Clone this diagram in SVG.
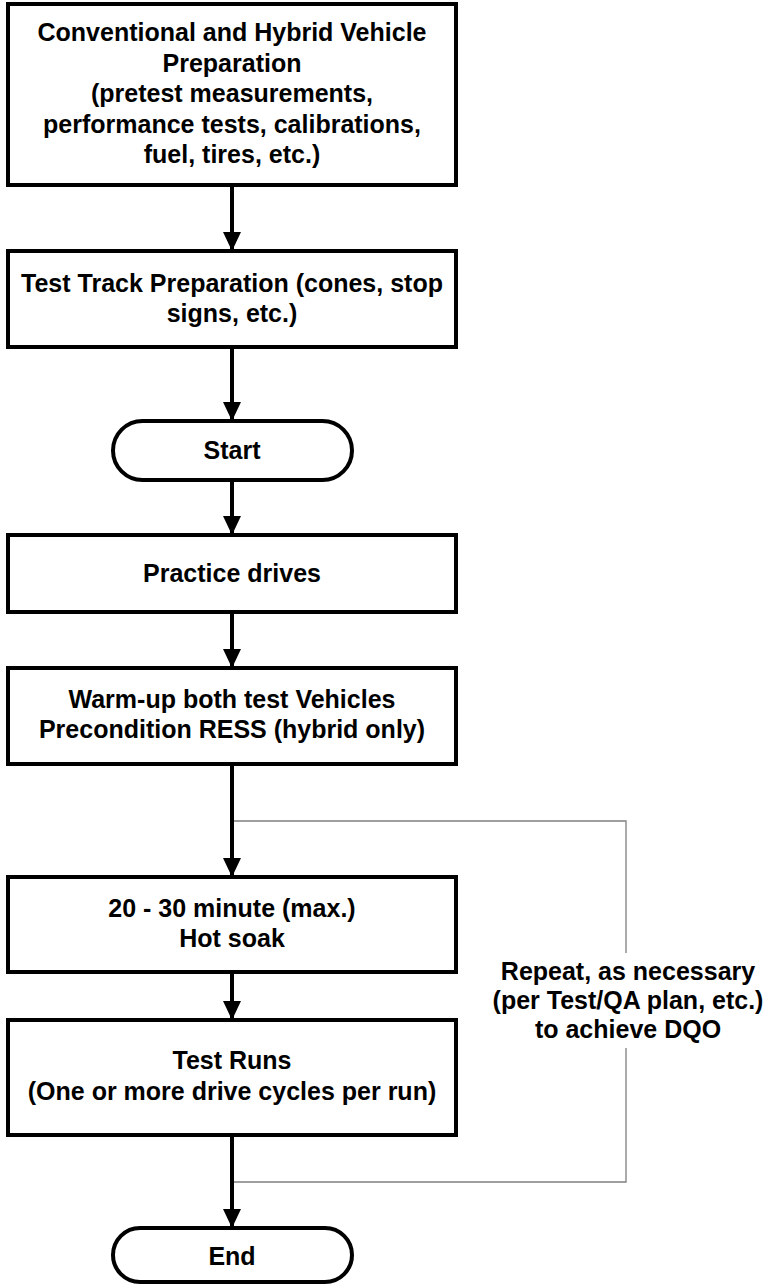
<svg xmlns="http://www.w3.org/2000/svg" width="766" height="1284" viewBox="0 0 766 1284">
<style>
.box{fill:#fff;stroke:#000;stroke-width:4}
.t{font-family:"Liberation Sans",Arial,sans-serif;font-weight:bold;font-size:25px;fill:#000;text-anchor:middle}
.c{stroke:#000;stroke-width:4;fill:none}
.loop{stroke:#7f7f7f;stroke-width:1.3;fill:none}
</style>
<defs>
<marker id="ah" markerUnits="userSpaceOnUse" markerWidth="20" markerHeight="18" refX="19" refY="9" orient="auto">
<path d="M0,0 L19,9 L0,18 Z" fill="#000"/>
</marker>
</defs>
<rect width="766" height="1284" fill="#fff"/>
<g id="connectors">
<path class="loop" d="M232,821 H626 V953 M626,1048 V1182 H232"/>
<line class="c" x1="232" y1="185" x2="232" y2="251" marker-end="url(#ah)"/>
<line class="c" x1="232" y1="347" x2="232" y2="421" marker-end="url(#ah)"/>
<line class="c" x1="232" y1="480" x2="232" y2="535" marker-end="url(#ah)"/>
<line class="c" x1="232" y1="612" x2="232" y2="668" marker-end="url(#ah)"/>
<line class="c" x1="232" y1="764" x2="232" y2="877" marker-end="url(#ah)"/>
<line class="c" x1="232" y1="972" x2="232" y2="1020" marker-end="url(#ah)"/>
<line class="c" x1="232" y1="1135" x2="232" y2="1228" marker-end="url(#ah)"/>
<g id="loop-label">
<text class="t" x="628" y="980">Repeat, as necessary</text>
<text class="t" x="628" y="1009">(per Test/QA plan, etc.)</text>
<text class="t" x="628" y="1038">to achieve DQO</text>
</g>
</g>
<g id="n1">
<rect class="box" x="8" y="4" width="448" height="181"/>
<text class="t" x="232" y="41">Conventional and Hybrid Vehicle</text>
<text class="t" x="232" y="72">Preparation</text>
<text class="t" x="232" y="102">(pretest measurements,</text>
<text class="t" x="232" y="133">performance tests, calibrations,</text>
<text class="t" x="232" y="163">fuel, tires, etc.)</text>
</g>
<g id="n2">
<rect class="box" x="8" y="251" width="448" height="96"/>
<text class="t" x="232" y="292">Test Track Preparation (cones, stop</text>
<text class="t" x="232" y="322">signs, etc.)</text>
</g>
<g id="start">
<rect class="box" x="113" y="421" width="239" height="59" rx="29.5"/>
<text class="t" x="232" y="459">Start</text>
</g>
<g id="n3">
<rect class="box" x="8" y="535" width="448" height="77"/>
<text class="t" x="232" y="582">Practice drives</text>
</g>
<g id="n4">
<rect class="box" x="8" y="668" width="448" height="96"/>
<text class="t" x="232" y="708">Warm-up both test Vehicles</text>
<text class="t" x="232" y="738">Precondition RESS (hybrid only)</text>
</g>
<g id="n5">
<rect class="box" x="8" y="877" width="448" height="95"/>
<text class="t" x="232" y="917">20 - 30 minute (max.)</text>
<text class="t" x="232" y="947">Hot soak</text>
</g>
<g id="n6">
<rect class="box" x="8" y="1020" width="448" height="115"/>
<text class="t" x="232" y="1069">Test Runs</text>
<text class="t" x="232" y="1100">(One or more drive cycles per run)</text>
</g>
<g id="end">
<rect class="box" x="113" y="1228" width="239" height="54" rx="27"/>
<text class="t" x="232" y="1265">End</text>
</g>
</svg>
